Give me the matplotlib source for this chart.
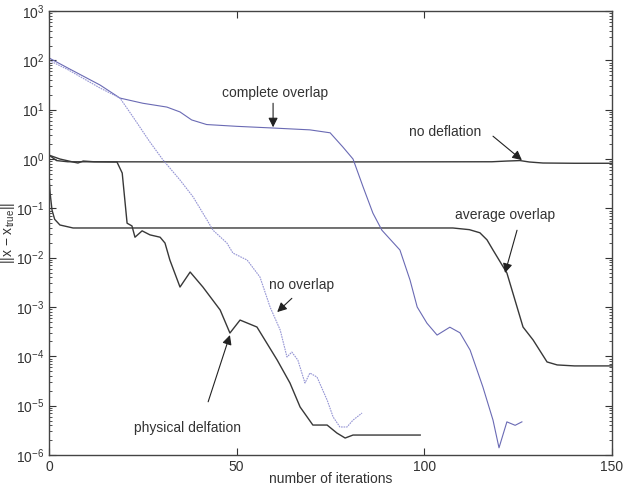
import matplotlib
matplotlib.use("Agg")
import matplotlib.pyplot as plt
from matplotlib.ticker import LogLocator, NullFormatter, FixedLocator

plt.rcParams['font.family'] = ['Liberation Sans', 'DejaVu Sans']
plt.rcParams['mathtext.default'] = 'regular'

# curves (iterations, error norm)
complete_x = [0, 5, 13.6, 18.9, 25, 31.4, 34.9, 38, 42, 50, 59.7, 69.5, 74.9, 78.3, 81.0,
              83.7, 86.3, 88.7, 93.5, 96.2, 98.1, 100.7, 103.4, 106.8, 109.5, 112.2,
              115.6, 118.3, 119.9, 122.0, 124.2, 126.0]
complete_y = [112, 70, 31.6, 17.2, 13.5, 11.3, 9.0, 6.2, 5.0, 4.6, 4.25, 3.9, 3.4, 1.75, 1.0,
              0.27, 0.08, 0.036, 0.0143, 3.5e-3, 1.0e-3, 4.7e-4, 2.7e-4, 3.9e-4, 3.0e-4, 1.34e-4,
              2.4e-5, 5.1e-6, 1.4e-6, 4.7e-6, 4.0e-6, 4.7e-6]

nooverlap_x = [0, 5, 13.6, 18.9, 22.4, 26.9, 30.4, 34.9, 38.4, 42.1, 43.7, 47.4, 49.0, 52.8,
               56.2, 58.9, 61.6, 63.4, 64.7, 66.3, 68.2, 69.5, 71.4, 74.1, 75.7, 77.5, 79.4,
               81.0, 83.4]
nooverlap_y = [100, 65, 27.5, 17.2, 7.1, 2.2, 0.95, 0.375, 0.17, 0.058, 0.036, 0.0198, 0.0124,
               8.95e-3, 4.06e-3, 1.0e-3, 3.41e-4, 9.7e-5, 1.22e-4, 8.4e-5, 2.88e-5, 4.59e-5,
               3.81e-5, 1.3e-5, 5.9e-6, 3.7e-6, 3.7e-6, 5.1e-6, 7.1e-6]

physical_x = [0, 2.9, 6.4, 7.7, 9.1, 12, 18.1, 19.5, 20.8, 22.1, 22.9, 24.8, 26.9, 29.6, 30.9,
              32.2, 34.9, 37.6, 41.0, 45.6, 48.2, 50.9, 55.4, 60.8, 64.2, 66.9, 70.3, 74.1,
              76.7, 78.9, 81.0, 98.9]
physical_y = [1.2, 1.0, 0.87, 0.83, 0.91, 0.88, 0.87, 0.52, 0.050, 0.044, 0.026, 0.035, 0.029,
              0.026, 0.0198, 8.95e-3, 2.54e-3, 5.12e-3, 2.54e-3, 8.7e-4, 2.97e-4, 5.44e-4,
              3.93e-4, 8.4e-5, 2.88e-5, 9.4e-6, 4.05e-6, 4.05e-6, 2.79e-6, 2.21e-6, 2.54e-6,
              2.54e-6]

nodefl_x = [0, 2, 5, 60, 118, 122, 125.5, 128, 131.6, 140, 150]
nodefl_y = [1.2, 0.93, 0.88, 0.87, 0.88, 0.91, 0.93, 0.87, 0.83, 0.82, 0.82]

average_x = [0, 0.3, 0.8, 1.5, 2.9, 6.4, 30, 80, 107.6, 112, 114.8, 116.7, 118.3, 122.0,
             126.3, 129.0, 132.7, 135.4, 140, 150]
average_y = [0.4, 0.2, 0.092, 0.06, 0.046, 0.040, 0.040, 0.040, 0.040, 0.037, 0.032, 0.023,
             0.0143, 4.9e-3, 3.93e-4, 2.14e-4, 7.7e-5, 6.7e-5, 6.4e-5, 6.4e-5]

x_ticks = [0, 50, 100, 150]
y_ticks = [1e-6, 1e-5, 1e-4, 1e-3, 1e-2, 1e-1, 1e0, 1e1, 1e2, 1e3]

dark = '#383838'
fig = plt.figure(figsize=(6.23, 4.9), dpi=100)
ax = fig.add_axes([0.0787, 0.0714, 0.9036, 0.9061])

ax.semilogy(nodefl_x, nodefl_y, color=dark, lw=1.0)
ax.semilogy(average_x, average_y, color=dark, lw=1.0)
ax.semilogy(physical_x, physical_y, color=dark, lw=1.0)
ax.semilogy(complete_x, complete_y, color='#6a6ab4', lw=0.8)
ax.semilogy(nooverlap_x, nooverlap_y, color='#9494d4', lw=0.8, ls=(0, (1.5, 0.8)))

ax.set_xlim(0, 150)
ax.set_ylim(1e-6, 1e3)
ax.set_xticks(x_ticks)
ax.yaxis.set_major_locator(FixedLocator(y_ticks))
ax.yaxis.set_minor_locator(LogLocator(base=10, subs=range(2, 10), numticks=20))
ax.yaxis.set_minor_formatter(NullFormatter())
ax.tick_params(which='both', direction='in', top=True, right=True, labelsize=10,
               colors='#333333')
ax.tick_params(which='major', length=5)
ax.tick_params(which='minor', length=2.5)
for s in ax.spines.values():
    s.set_color('#444444')
    s.set_linewidth(1.0)

ax.set_xlabel('number of iterations', fontsize=10, color='#333333', labelpad=-1)
ax.set_ylabel('||x $-$ x$_{true}$||', fontsize=10, color='#333333', labelpad=-1)

arrow = dict(arrowstyle='-|>', color='#222222', lw=0.8, mutation_scale=14,
             shrinkA=0, shrinkB=0)
txt = dict(fontsize=10, color='#333333', ha='center', va='center')
ax.text(60.2, 21.8, 'complete overlap', **txt)
ax.annotate('', xy=(59.7, 4.4), xytext=(59.7, 13.5), arrowprops=arrow)
ax.text(105.5, 3.5, 'no deflation', **txt)
ax.annotate('', xy=(126.0, 0.95), xytext=(118.3, 2.9), arrowprops=arrow)
ax.text(121.5, 0.073, 'average overlap', **txt)
ax.annotate('', xy=(121.5, 4.9e-3), xytext=(124.7, 0.036), arrowprops=arrow)
ax.text(67.4, 2.8e-3, 'no overlap', **txt)
ax.annotate('', xy=(60.8, 7.9e-4), xytext=(64.7, 1.5e-3), arrowprops=arrow)
ax.text(37.0, 3.5e-6, 'physical delfation', **txt)
ax.annotate('', xy=(48.2, 2.7e-4), xytext=(42.4, 1.2e-5), arrowprops=arrow)

fig.savefig('out.png', dpi=100)
